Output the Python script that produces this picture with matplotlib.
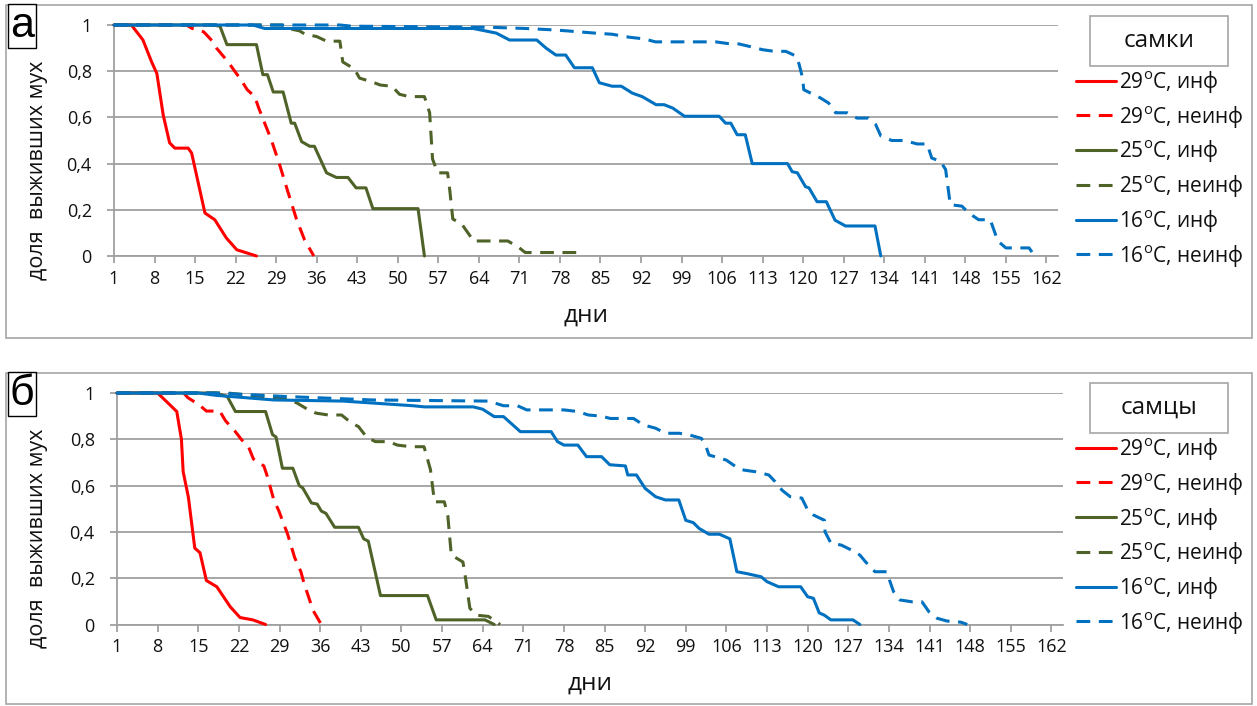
import numpy as np
import matplotlib
matplotlib.use('Agg')
import matplotlib.pyplot as plt
from matplotlib.lines import Line2D
from matplotlib.patches import Rectangle

plt.rcParams['font.family'] = ['Open Sans', 'DejaVu Sans']
plt.rcParams['mathtext.fontset'] = 'custom'
plt.rcParams['mathtext.rm'] = 'Open Sans'
plt.rcParams['mathtext.it'] = 'Open Sans'

# ---- data (day, share of surviving flies) ----
# females (а)
red_f_inf_d = [1, 4, 6, 7.5, 8.4, 9.5, 10.6, 11.5, 13.8, 14.4, 16.7, 18.4, 20.4, 22.2, 25.6]
red_f_inf_v = [1, 1, 0.935, 0.84, 0.79, 0.61, 0.49, 0.467, 0.467, 0.446, 0.186, 0.157, 0.078, 0.027, 0.0]
red_f_non_d = [1, 13.5, 14.5, 15.5, 16.5, 18, 18.7, 20.7, 23, 24, 25.3, 26, 28.2, 29.6, 31, 32.5, 33.9, 35.5]
red_f_non_v = [1, 1, 0.985, 0.98, 0.97, 0.93, 0.90, 0.84, 0.76, 0.72, 0.69, 0.64, 0.50, 0.395, 0.28, 0.16, 0.07, 0.0]
green_f_inf_d = [1, 18, 19.3, 20.5, 25.6, 26.7, 27.5, 28.5, 30.2, 31.6, 32.2, 33.4, 34.8, 35.6, 37.7,
                 39.4, 41.4, 42.8, 44.5, 45.7, 53.5, 54.6]
green_f_inf_v = [1, 1, 0.995, 0.915, 0.915, 0.785, 0.785, 0.71, 0.71, 0.575, 0.575, 0.495, 0.475, 0.475, 0.36,
                 0.34, 0.34, 0.295, 0.295, 0.205, 0.205, 0.0]
green_f_non_d = [1, 30, 31, 33, 34, 36, 37.7, 40, 40.5, 42.5, 43.4, 45.4, 47, 49, 50.3, 52, 54.6, 55.5, 56,
                 56.9, 58.6, 59, 59.5, 61, 62.4, 63, 69, 71, 72, 81]
green_f_non_v = [1, 1, 0.985, 0.975, 0.96, 0.95, 0.93, 0.93, 0.84, 0.81, 0.77, 0.755, 0.74, 0.735, 0.70, 0.69,
                 0.69, 0.62, 0.42, 0.36, 0.36, 0.28, 0.16, 0.14, 0.09, 0.065, 0.065, 0.035, 0.015, 0.015]
blue_f_inf_d = [1, 25, 27, 63, 65, 67, 69.3, 74, 75.6, 77.3, 79, 80.5, 83.6, 84.8, 87, 88.6, 90.5, 92.2,
                94.6, 96, 97.5, 99.5, 105.5, 106.6, 107.5, 108.6, 110, 111.2, 117.3, 118.1, 119, 120.4,
                121, 122.4, 124, 125.5, 127.3, 132.4, 133.4]
blue_f_inf_v = [1, 1, 0.985, 0.985, 0.975, 0.965, 0.935, 0.935, 0.90, 0.87, 0.87, 0.815, 0.815, 0.75, 0.735,
                0.735, 0.705, 0.69, 0.655, 0.655, 0.64, 0.605, 0.605, 0.575, 0.575, 0.525, 0.525, 0.40,
                0.40, 0.365, 0.36, 0.30, 0.295, 0.235, 0.235, 0.155, 0.13, 0.13, 0.0]
blue_f_non_d = [1, 40, 42, 66, 72, 76, 79, 84, 87, 90, 92.5, 94.5, 104.9, 106.9, 108.9, 110.6, 113, 115,
                117, 118.8, 119.3, 119.9, 120.1, 121.3, 123, 124.4, 125.6, 127.6, 129.3, 131.3, 132.5,
                133.4, 135.3, 137.4, 139.7, 141.4, 142.2, 143.7, 144.6, 145.4, 147.4, 148.6, 150.3, 152.3,
                153, 153.6, 155, 157.5, 159, 160]
blue_f_non_v = [1, 1, 0.995, 0.99, 0.985, 0.98, 0.975, 0.965, 0.96, 0.947, 0.94, 0.927, 0.927, 0.92, 0.918,
                0.908, 0.893, 0.886, 0.886, 0.865, 0.83, 0.77, 0.72, 0.705, 0.684, 0.662, 0.62, 0.62,
                0.597, 0.597, 0.57, 0.52, 0.50, 0.50, 0.485, 0.485, 0.424, 0.41, 0.374, 0.222, 0.216,
                0.186, 0.157, 0.157, 0.108, 0.065, 0.035, 0.035, 0.035, 0.0]

# males (б)
red_m_inf_d = [1, 8, 11.3, 12.1, 12.4, 13.3, 14.4, 15.3, 16.4, 18.2, 20.5, 22.2, 24.4, 26.6]
red_m_inf_v = [1, 1, 0.92, 0.80, 0.66, 0.55, 0.33, 0.31, 0.19, 0.163, 0.077, 0.03, 0.02, 0.0]
red_m_non_d = [1, 12.5, 13.2, 15.2, 16.4, 18.7, 19.7, 21.4, 22.4, 23.7, 24.5, 26.3, 26.9, 28, 28.9, 30.4,
               31.6, 32.7, 33.2, 34.8, 36.2]
red_m_non_v = [1, 1, 0.98, 0.948, 0.922, 0.922, 0.88, 0.833, 0.80, 0.765, 0.715, 0.685, 0.64, 0.54, 0.49,
               0.39, 0.29, 0.227, 0.18, 0.06, 0.0]
green_m_inf_d = [1, 18, 20, 21.4, 26.6, 27.8, 28.4, 29.5, 31.3, 32.4, 33, 34.5, 35.5, 36.2, 37, 38.5, 42.6,
                 43.5, 44.3, 46.4, 54.5, 56, 64.4, 66]
green_m_inf_v = [1, 1, 0.985, 0.92, 0.92, 0.82, 0.81, 0.675, 0.675, 0.60, 0.59, 0.525, 0.52, 0.49, 0.48,
                 0.42, 0.42, 0.37, 0.36, 0.125, 0.125, 0.02, 0.02, 0.0]
green_m_non_d = [1, 20, 24, 30, 32, 34, 35.3, 37.4, 39.7, 41.4, 42.6, 44, 45.5, 47.8, 49.3, 51.6, 53.9, 55,
                 55.7, 57.4, 58, 58.6, 60.6, 61, 61.8, 63, 65, 67]
green_m_non_v = [1, 1, 0.99, 0.975, 0.957, 0.927, 0.913, 0.905, 0.905, 0.87, 0.855, 0.81, 0.79, 0.79, 0.775,
                 0.768, 0.768, 0.67, 0.53, 0.53, 0.47, 0.30, 0.27, 0.21, 0.07, 0.04, 0.035, 0.0]
blue_m_inf_d = [1, 15, 18, 28, 40, 52, 54, 62.4, 64, 66, 67.6, 70.5, 75.8, 76.9, 78, 80.4, 81.9, 84.5, 85.9,
                88.6, 89, 90.5, 92, 93.8, 95.5, 97.8, 99, 100.3, 101.3, 103, 104.8, 106.6, 107.8, 109.5,
                112, 113, 115, 118.8, 120, 121, 122, 122.9, 124, 127.8, 129]
blue_m_inf_v = [1, 1, 0.99, 0.97, 0.965, 0.945, 0.94, 0.94, 0.93, 0.898, 0.898, 0.833, 0.833, 0.79, 0.775,
                0.775, 0.725, 0.725, 0.69, 0.685, 0.646, 0.646, 0.588, 0.552, 0.538, 0.538, 0.45, 0.44,
                0.415, 0.39, 0.39, 0.37, 0.228, 0.22, 0.206, 0.185, 0.163, 0.163, 0.12, 0.113, 0.05, 0.04,
                0.02, 0.02, 0.0]
blue_m_non_d = [1, 18, 30, 45, 65, 67.6, 70, 71.6, 78, 80.4, 82.2, 84.5, 86, 88, 90, 91.7, 93.8, 95.5, 97.9,
                99.6, 101.7, 102.5, 103, 104, 106, 108, 109, 111, 113.3, 114.4, 115.6, 117, 119, 120, 121,
                122.9, 123, 124, 125.8, 127.5, 129, 130, 131.6, 133.6, 134.2, 134.8, 135.9, 138, 139.7,
                140.9, 142.3, 144, 146.4, 147.5]
blue_m_non_v = [1, 1, 0.985, 0.97, 0.965, 0.945, 0.945, 0.927, 0.927, 0.92, 0.905, 0.9, 0.89, 0.89, 0.89,
                0.862, 0.848, 0.826, 0.826, 0.819, 0.804, 0.768, 0.732, 0.725, 0.71, 0.675, 0.667, 0.66,
                0.646, 0.617, 0.58, 0.552, 0.546, 0.495, 0.473, 0.45, 0.4, 0.352, 0.343, 0.322, 0.30, 0.27,
                0.228, 0.228, 0.185, 0.142, 0.106, 0.098, 0.098, 0.055, 0.027, 0.015, 0.01, 0.0]

labels = ['29$^{\\mathrm{o}}$C, инф', '29$^{\\mathrm{o}}$C, неинф',
          '25$^{\\mathrm{o}}$C, инф', '25$^{\\mathrm{o}}$C, неинф',
          '16$^{\\mathrm{o}}$C, инф', '16$^{\\mathrm{o}}$C, неинф']
colors = ['#FF0000', '#FF0000', '#4F6228', '#4F6228', '#0070C0', '#0070C0']
dashed = [False, True, False, True, False, True]
xticks = list(range(1, 163, 7))

females = [(red_f_inf_d, red_f_inf_v), (red_f_non_d, red_f_non_v),
           (green_f_inf_d, green_f_inf_v), (green_f_non_d, green_f_non_v),
           (blue_f_inf_d, blue_f_inf_v), (blue_f_non_d, blue_f_non_v)]
males = [(red_m_inf_d, red_m_inf_v), (red_m_non_d, red_m_non_v),
         (green_m_inf_d, green_m_inf_v), (green_m_non_d, green_m_non_v),
         (blue_m_inf_d, blue_m_inf_v), (blue_m_non_d, blue_m_non_v)]

W, H = 1257, 706
fig = plt.figure(figsize=(W / 100, H / 100), dpi=100)
GRAY = '#a6a6a6'
TXT = '#111111'
LW = 2.2


def style(i):
    kw = dict(color=colors[i], lw=LW, solid_capstyle='round', solid_joinstyle='round')
    if dashed[i]:
        kw['dashes'] = (4.5, 2.8)
    return kw


def panel(series, rect_px, ax_px, letter, title, leg_top):
    # outer frame
    x0, y0, x1, y1 = rect_px
    fig.patches.append(Rectangle((x0 / W, 1 - y1 / H), (x1 - x0) / W, (y1 - y0) / H,
                                 transform=fig.transFigure, fill=False, ec=GRAY, lw=1.2))
    l, t, r, b = ax_px
    ax = fig.add_axes([l / W, 1 - b / H, (r - l) / W, (b - t) / H])
    for i, (d, v) in enumerate(series):
        ax.plot(d, v, clip_on=False, zorder=3, **style(i))
    ax.set_xlim(1, 164)
    ax.set_ylim(0, 1)
    ax.set_xticks(xticks)
    ax.set_yticks([0, 0.2, 0.4, 0.6, 0.8, 1])
    ax.set_yticklabels(['0', '0,2', '0,4', '0,6', '0,8', '1'])
    ax.yaxis.grid(True, color='#a0a0a0', lw=1.3)
    ax.set_axisbelow(True)
    for s in ['top', 'right']:
        ax.spines[s].set_visible(False)
    for s in ['left', 'bottom']:
        ax.spines[s].set_color('#a0a0a0')
        ax.spines[s].set_linewidth(1.3)
    ax.tick_params(axis='both', colors='#a0a0a0', labelcolor=TXT, labelsize=13,
                   length=5, width=1.3)
    ax.tick_params(axis='y', pad=11)
    ax.tick_params(axis='x', pad=5)
    ax.set_xlabel('дни', fontsize=17.5, color=TXT, labelpad=11)
    fig.text(38 / W, 1 - (b + 30 - (b - t) / 2) / H, 'доля  выживших мух', rotation=90,
             fontsize=15.5, color=TXT, ha='center', va='center')
    # panel letter
    fig.text(22 / W, 1 - (y0 + 21) / H, letter, fontsize=31, family='Liberation Sans',
             ha='center', va='center',
             bbox=dict(boxstyle='square,pad=0.04', fc='white', ec='black', lw=1))
    # legend title box
    fig.patches.append(Rectangle((1090 / W, 1 - (leg_top + 50) / H), 138 / W, 50 / H,
                                 transform=fig.transFigure, fill=False, ec=GRAY, lw=1.2))
    fig.text(1159 / W, 1 - (leg_top + 25) / H, title, fontsize=17.5, color=TXT,
             ha='center', va='center')
    handles = [Line2D([], [], **style(i)) for i in range(6)]
    ax.legend(handles, labels, loc='upper left', bbox_to_anchor=(1076 / W, 1 - (leg_top + 53) / H),
              bbox_transform=fig.transFigure, frameon=False, borderpad=0, borderaxespad=0,
              handlelength=1.9, handletextpad=0.15, labelspacing=0.42, fontsize=15,
              labelcolor=TXT)
    return ax


panel(females, (6, 5, 1252, 338), (114, 25, 1058, 256), 'а', 'самки', 16)
panel(males, (6, 373, 1252, 704), (117, 393, 1063, 624.5), 'б', 'самцы', 383)

fig.savefig('out.png', dpi=100)
